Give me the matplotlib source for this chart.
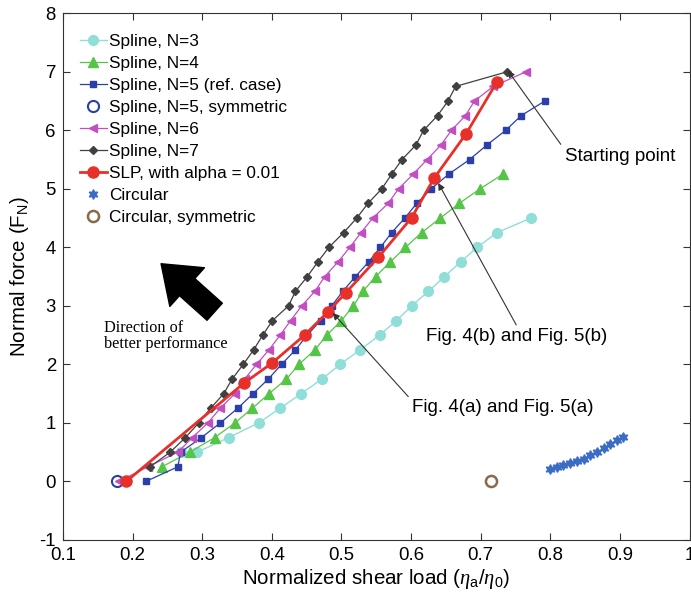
import numpy as np
import matplotlib
matplotlib.use('Agg')
import matplotlib.pyplot as plt

plt.rcParams['font.family'] = ['Liberation Sans', 'DejaVu Sans']
plt.rcParams['mathtext.fontset'] = 'custom'
plt.rcParams['mathtext.rm'] = 'Liberation Sans'
plt.rcParams['mathtext.it'] = 'Liberation Serif:italic'
plt.rcParams['axes.unicode_minus'] = False

# F_N levels of the spline sweeps
fn3 = [0.5, 0.5, 0.75, 1.0, 1.25, 1.5, 1.75, 2.0, 2.25, 2.5, 2.75, 3.0, 3.25, 3.5, 3.75, 4.0, 4.25, 4.5]
eta3 = [0.270, 0.293, 0.338, 0.381, 0.412, 0.442, 0.472, 0.498, 0.527, 0.555, 0.579, 0.601,
        0.625, 0.648, 0.671, 0.695, 0.723, 0.772]

fn4 = [0.25, 0.5, 0.75, 1.0, 1.25, 1.5, 1.75, 2.0, 2.25, 2.5, 2.75, 3.0, 3.25, 3.5, 3.75, 4.0,
       4.25, 4.5, 4.75, 5.0, 5.25]
eta4 = [0.242, 0.282, 0.318, 0.347, 0.372, 0.396, 0.421, 0.439, 0.462, 0.479, 0.500, 0.517,
        0.531, 0.549, 0.570, 0.592, 0.615, 0.642, 0.669, 0.699, 0.732]

fn5 = [0.0, 0.25, 0.5, 0.75, 1.0, 1.25, 1.5, 1.75, 2.0, 2.25, 2.5, 2.75, 3.0, 3.25, 3.5, 3.75,
       4.0, 4.25, 4.5, 4.75, 5.0, 5.25, 5.5, 5.75, 6.0, 6.25, 6.5]
eta5 = [0.219, 0.265, 0.269, 0.299, 0.326, 0.351, 0.373, 0.395, 0.414, 0.434, 0.451, 0.470,
        0.486, 0.502, 0.520, 0.539, 0.556, 0.572, 0.591, 0.608, 0.629, 0.654, 0.684, 0.709,
        0.736, 0.758, 0.792]

eta5_sym = [0.178]
fn5_sym = [0.0]

fn6 = [0.0, 0.25, 0.5, 0.75, 1.0, 1.25, 1.5, 1.75, 2.0, 2.25, 2.5, 2.75, 3.0, 3.25, 3.5, 3.75,
       4.0, 4.25, 4.5, 4.75, 5.0, 5.25, 5.5, 5.75, 6.0, 6.25, 6.5, 6.75, 7.0]
eta6 = [0.180, 0.222, 0.265, 0.286, 0.308, 0.326, 0.347, 0.361, 0.378, 0.396, 0.412, 0.427,
        0.443, 0.462, 0.476, 0.495, 0.512, 0.528, 0.545, 0.567, 0.582, 0.603, 0.623, 0.643,
        0.658, 0.678, 0.691, 0.718, 0.765]

fn7 = [0.25, 0.5, 0.75, 1.0, 1.25, 1.5, 1.75, 2.0, 2.25, 2.5, 2.75, 3.0, 3.25, 3.5, 3.75, 4.0,
       4.25, 4.5, 4.75, 5.0, 5.25, 5.5, 5.75, 6.0, 6.25, 6.5, 6.75, 7.0]
eta7 = [0.225, 0.254, 0.276, 0.295, 0.312, 0.331, 0.343, 0.359, 0.374, 0.387, 0.401, 0.424,
        0.434, 0.451, 0.466, 0.482, 0.503, 0.522, 0.538, 0.558, 0.572, 0.587, 0.607, 0.618,
        0.638, 0.653, 0.664, 0.738]

eta_slp = [0.191, 0.360, 0.400, 0.447, 0.480, 0.506, 0.553, 0.601, 0.633, 0.679, 0.723]
fn_slp = [0.0, 1.68, 2.02, 2.50, 2.89, 3.22, 3.83, 4.51, 5.18, 5.94, 6.82]

eta_circ = [0.799, 0.809, 0.818, 0.828, 0.838, 0.848, 0.857, 0.867, 0.877, 0.886, 0.896, 0.905]
fn_circ = [0.21, 0.24, 0.28, 0.31, 0.35, 0.39, 0.45, 0.50, 0.57, 0.64, 0.70, 0.755]

eta_circ_sym = [0.715]
fn_circ_sym = [0.0]

fig = plt.figure(figsize=(6.91, 6.02), dpi=100)
ax = fig.add_axes([0.091, 0.103, 0.907, 0.875])

ax.plot(eta3, fn3, '-o', color='#8fded8', ms=7, lw=1.0, label='Spline, N=3')
ax.plot(eta4, fn4, '-^', color='#55c547', ms=6.5, lw=0.9, label='Spline, N=4')
ax.plot(eta5, fn5, '-s', color='#2b3faa', ms=4.5, lw=0.9, label='Spline, N=5 (ref. case)')
ax.plot(eta5_sym, fn5_sym, 'o', color='#2b3faa', mfc='none', mew=1.5, ms=8,
        label='Spline, N=5, symmetric')
ax.plot(eta6, fn6, '-<', color='#c24fc2', ms=6, lw=0.9, label='Spline, N=6')
ax.plot(eta7, fn7, '-D', color='#404040', ms=4.5, lw=0.9, label='Spline, N=7')
ax.plot(eta_slp, fn_slp, '-o', color='#e8302a', ms=8, lw=2.0, label='SLP, with alpha = 0.01')
ax.plot(eta_circ, fn_circ, ls='none', marker=(6, 1, 0), color='#3b6cc4', ms=7,
        label='Circular')
ax.plot(eta_circ_sym, fn_circ_sym, 'o', color='#8b6a4c', mfc='none', mew=1.8, ms=8,
        label='Circular, symmetric')

ax.set_xlim(0.1, 1.0)
ax.set_ylim(-1, 8)
ax.set_xticks(np.arange(0.1, 1.01, 0.1))
ax.set_xticklabels(['0.1', '0.2', '0.3', '0.4', '0.5', '0.6', '0.7', '0.8', '0.9', '1'])
ax.set_yticks(range(-1, 9))
ax.tick_params(direction='in', top=True, right=True, length=5, labelsize=13.4,
               color='#333333', pad=5)
for s in ax.spines.values():
    s.set_color('#333333')
    s.set_linewidth(0.8)

ax.set_xlabel(r'Normalized shear load ($\eta_\mathrm{a}$/$\eta_\mathrm{0}$)', fontsize=14.8,
              labelpad=2)
ax.set_ylabel(r'Normal force (F$_\mathrm{N}$)', fontsize=14.8, labelpad=6)

ax.legend(loc='upper left', bbox_to_anchor=(0.027, 0.960), frameon=False, fontsize=12.4,
          borderaxespad=0, borderpad=0, handlelength=1.56, handletextpad=0.15,
          labelspacing=0.40)

# big arrow
ax.annotate('', xy=(0.241, 3.72), xytext=(0.318, 2.90),
            arrowprops=dict(arrowstyle='simple,head_length=1.8,head_width=2.67,tail_width=1.18',
                            mutation_scale=14, color='black', shrinkA=0, shrinkB=0))
ax.text(0.159, 2.48, 'Direction of\nbetter performance', family='Liberation Serif',
        fontsize=11.7, va='center', ha='left', linespacing=1.0)

ap = dict(arrowstyle='-|>', color='#333333', lw=0.8, mutation_scale=10, shrinkA=0, shrinkB=0)
ax.annotate('', xy=(0.4875, 2.88), xytext=(0.596, 1.45), arrowprops=ap)
ax.text(0.601, 1.256, 'Fig. 4(a) and Fig. 5(a)', fontsize=13.5, va='center', ha='left')
ax.annotate('', xy=(0.639, 5.10), xytext=(0.751, 2.675), arrowprops=ap)
ax.text(0.621, 2.475, 'Fig. 4(b) and Fig. 5(b)', fontsize=13.5, va='center', ha='left')
ax.annotate('', xy=(0.739, 7.02), xytext=(0.815, 5.76), arrowprops=ap)
ax.text(0.8215, 5.55, 'Starting point', fontsize=13.5, va='center', ha='left')

fig.savefig('out.png', dpi=100)
